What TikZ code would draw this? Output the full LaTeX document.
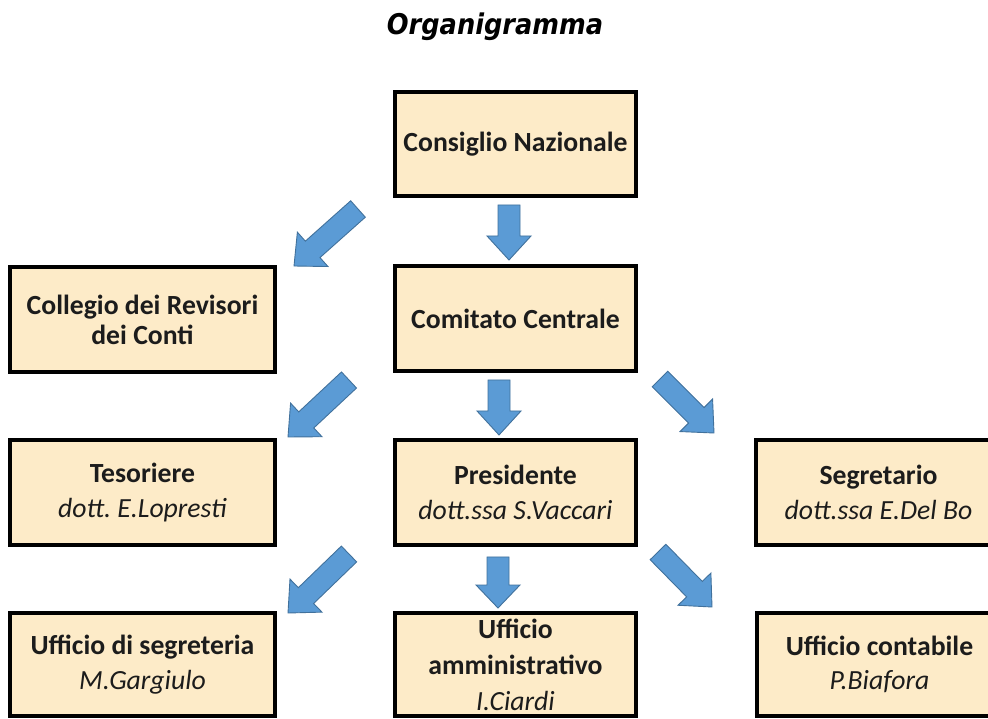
\documentclass[tikz,border=0pt]{standalone}
\usepackage{fontspec}
\setmainfont{Carlito}
\newfontfamily\titlefont[FakeStretch=0.9]{DejaVu Sans}
\usetikzlibrary{calc}
\definecolor{boxfill}{HTML}{FDEBC8}
\definecolor{arrfill}{HTML}{5B9BD5}
\definecolor{arrline}{HTML}{41719C}
\definecolor{textcol}{HTML}{1C1C1C}
\frenchspacing
\newcommand\blockarr[5]{%
 \draw[barrow] let \p1=($(#2)-(#1)$), \n1={atan2(\y1,\x1)}, \n2={veclen(\x1,\y1)-#5} in
  ($(#1)+(\n1-90:#3)$) -- ($(#1)+(\n1:\n2)+(\n1-90:#3)$) -- ($(#1)+(\n1:\n2)+(\n1-90:#4)$) -- (#2)
  -- ($(#1)+(\n1:\n2)+(\n1+90:#4)$) -- ($(#1)+(\n1:\n2)+(\n1+90:#3)$) -- ($(#1)+(\n1+90:#3)$) -- cycle;}
\begin{document}
\begin{tikzpicture}[x=1pt,y=1pt,
  box/.style={draw=black, line width=3.5pt, fill=boxfill, align=center, inner sep=0pt,
    text=textcol, font=\fontsize{27.7}{34.5}\selectfont},
  colc/.style={minimum width=241pt},
  coll/.style={minimum width=265pt},
  colr/.style={minimum width=245pt},
  barrow/.style={draw=arrline, fill=arrfill, line width=0.9pt, line join=miter},
  titlestyle/.style={font=\titlefont\bfseries\itshape\fontsize{28.5}{32}\selectfont, inner sep=0pt, anchor=base}]
\useasboundingbox (0,0) rectangle (988,718);
\fill[white] (0,0) rectangle (988,718);
\clip (0,0) rectangle (988,718);

\node[titlestyle] (title) at (495,683) {Organigramma};

% boxes
\node[box, colc, minimum height=104pt] (cons) at (515.5,574) {\textbf{Consiglio Nazionale}};
\node[box, coll, minimum height=105pt, font=\fontsize{27.7}{30}\selectfont] (coll) at (142.5,398.5) {\textbf{Collegio dei Revisori}\\\textbf{dei Conti}};
\node[box, colc, minimum height=105pt] (comi) at (515.5,399.5) {\textbf{Comitato Centrale}};
\node[box, coll, minimum height=105pt] (teso) at (142.5,225.5) {\textbf{Tesoriere}\\\textit{dott. E.Lopresti}};
\node[box, colc, minimum height=105pt] (pres) at (515.5,225.5) {\textbf{Presidente}\\\textit{dott.ssa S.Vaccari}};
\node[box, colr, minimum height=105pt] (segr) at (878.5,225.5) {\textbf{Segretario}\\\textit{dott.ssa E.Del Bo}};
\node[box, coll, minimum height=103pt] (uffs) at (142.5,53.5) {\textbf{Ufficio di segreteria}\\\textit{M.Gargiulo}};
\node[box, colc, minimum height=103pt, font=\fontsize{27.7}{36}\selectfont] (uffa) at (515.5,53.5) {\textbf{Ufficio}\\\textbf{amministrativo}\\\textit{I.Ciardi}};
\node[box, colr, minimum height=103pt] (uffc) at (879.5,53.5) {\textbf{Ufficio contabile}\\\textit{P.Biafora}};

% arrow end points
\coordinate (d1s) at (509,513); \coordinate (d1e) at (509,458);
\coordinate (a1s) at (358,509); \coordinate (a1e) at (294,452);
\coordinate (d2s) at (499,338); \coordinate (d2e) at (499,283);
\coordinate (a2s) at (349,338); \coordinate (a2e) at (288,281);
\coordinate (a3s) at (660,339); \coordinate (a3e) at (714,285);
\coordinate (d3s) at (498,161); \coordinate (d3e) at (498,110);
\coordinate (a4s) at (349,164); \coordinate (a4e) at (288,105);
\coordinate (a5s) at (658,166); \coordinate (a5e) at (712,111);

\blockarr{d1s}{d1e}{11}{22}{24}
\blockarr{d2s}{d2e}{11}{22}{24}
\blockarr{d3s}{d3e}{11}{22}{23}
\blockarr{a1s}{a1e}{11}{23}{25}
\blockarr{a2s}{a2e}{11}{23}{25}
\blockarr{a3s}{a3e}{11}{23}{25}
\blockarr{a4s}{a4e}{11}{23}{25}
\blockarr{a5s}{a5e}{11}{23}{25}
\end{tikzpicture}
\end{document}
